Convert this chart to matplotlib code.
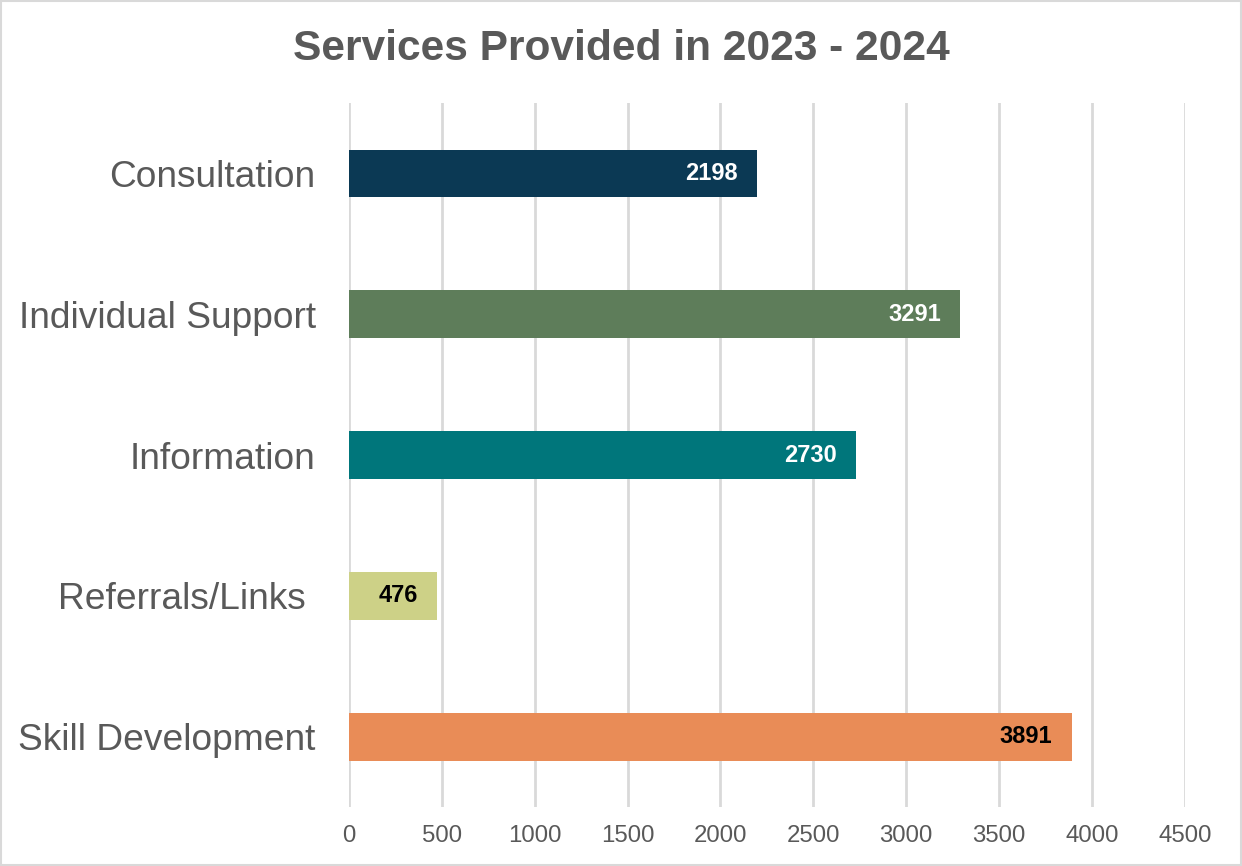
import matplotlib
matplotlib.use('Agg')
import matplotlib.pyplot as plt

plt.rcParams['font.family'] = ['Liberation Sans', 'DejaVu Sans']

# data
categories = ['Consultation', 'Individual Support', 'Information', 'Referrals/Links ', 'Skill Development']
values = [2198, 3291, 2730, 476, 3891]
colors = ['#0B3954', '#5E7D5A', '#00767B', '#CDD187', '#E98C57']
label_colors = ['white', 'white', 'white', 'black', 'black']
xticks = [0, 500, 1000, 1500, 2000, 2500, 3000, 3500, 4000, 4500]

fig = plt.figure(figsize=(12.42, 8.66), dpi=100)
ax = fig.add_axes([0.281, 0.068, 0.673, 0.813])

pos = list(range(len(categories)))
bars = ax.barh(pos, values, height=0.34, color=colors, zorder=3)
ax.set_ylim(len(categories) - 0.5, -0.5)
ax.set_xlim(0, 4500)
ax.set_xticks(xticks)
ax.set_yticks(pos)
ax.set_yticklabels(categories, fontsize=26.7, color='#595959')
ax.tick_params(axis='x', labelsize=17.3, labelcolor='#595959', length=0, pad=13)
ax.tick_params(axis='y', length=0, pad=24)
ax.grid(axis='x', color='#D9D9D9', linewidth=2, zorder=0)
for s in ax.spines.values():
    s.set_visible(False)

for b, v, c in zip(bars, values, label_colors):
    ax.annotate(str(v), (b.get_width(), b.get_y() + b.get_height() / 2),
                xytext=(-14, 0), textcoords='offset points', ha='right', va='center',
                fontsize=17, fontweight='bold', color=c, zorder=4)

fig.text(0.5, 0.943, 'Services Provided in 2023 - 2024', ha='center', va='center',
         fontsize=30.6, fontweight='bold', color='#595959')

# light frame round the whole chart
fig.patches.append(plt.Rectangle((0.001, 0.001), 0.998, 0.998, transform=fig.transFigure,
                                 fill=False, edgecolor='#D9D9D9', linewidth=1.5))

fig.savefig('out.png', dpi=100)
